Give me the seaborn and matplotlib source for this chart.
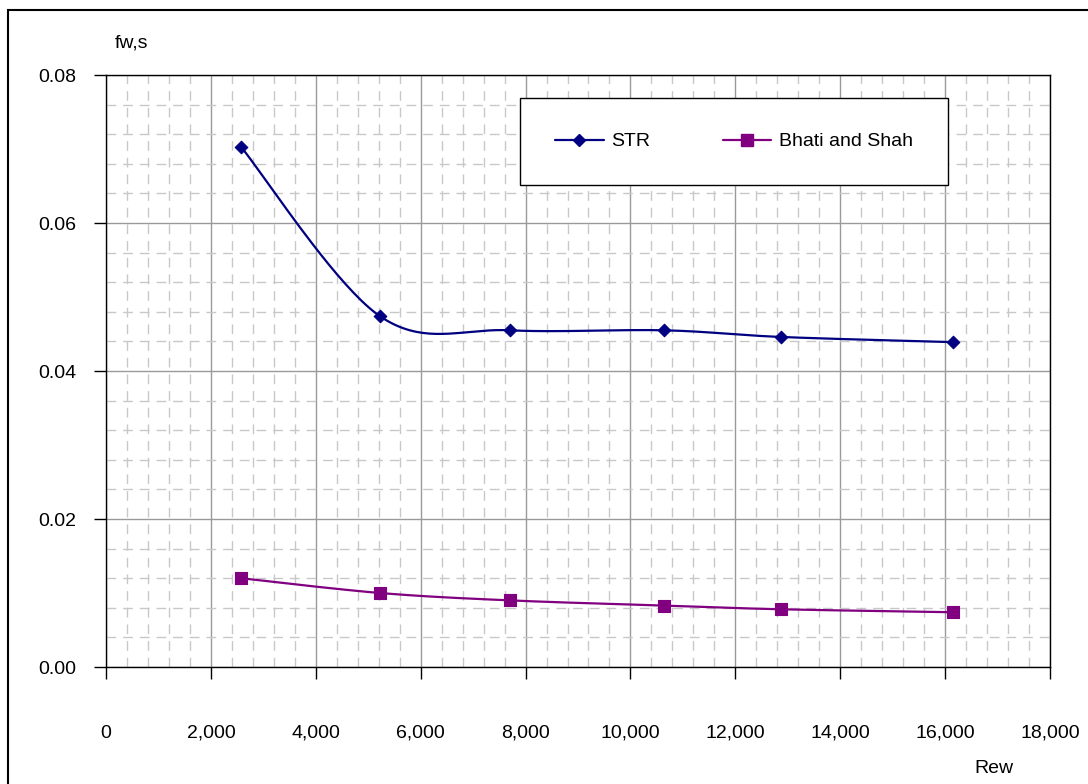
import numpy as np
import matplotlib
matplotlib.use("Agg")
import matplotlib.pyplot as plt
import seaborn as sns
from matplotlib.ticker import MultipleLocator, FuncFormatter
from matplotlib.lines import Line2D
from matplotlib.patches import Rectangle

# Wall Reynolds number and friction factor for each test run
rew = [2574, 5225, 7704, 10641, 12870, 16152]
f_str = [0.0703, 0.0474, 0.0455, 0.0455, 0.0446, 0.0439]
f_bhati = [0.0120, 0.0100, 0.0090, 0.0083, 0.0078, 0.0074]
series_names = ["STR", "Bhati and Shah"]
x_label = "Rew"
y_label = "fw,s"
x_max = 18000
y_max = 0.08

NAVY = "#000080"
PURPLE = "#800080"

sns.set_theme(style="white")
plt.rcParams["font.family"] = ["Liberation Sans", "DejaVu Sans"]
plt.rcParams["text.color"] = "black"

W, H = 1088, 784
fig = plt.figure(figsize=(W / 100, H / 100), dpi=100)
L, R, T, B = 106, 1050, 75, 667
ax = fig.add_axes([L / W, 1 - B / H, (R - L) / W, (B - T) / H])
ax_w, ax_h = R - L, B - T


def smooth(xs, ys, n=40):
    """Cubic Bezier smoothing through the points, computed in screen units."""
    P = np.column_stack([np.asarray(xs, float) / x_max * ax_w,
                         np.asarray(ys, float) / y_max * ax_h])
    parts = []
    t = np.linspace(0, 1, n)[:, None]
    for i in range(len(P) - 1):
        p0 = P[i - 1] if i > 0 else P[i]
        p1, p2 = P[i], P[i + 1]
        p3 = P[i + 2] if i + 2 < len(P) else P[i + 1]
        c1 = p1 + (p2 - p0) / 6
        c2 = p2 - (p3 - p1) / 6
        seg = (1 - t) ** 3 * p1 + 3 * (1 - t) ** 2 * t * c1 \
            + 3 * (1 - t) * t ** 2 * c2 + t ** 3 * p2
        parts.append(seg if i == 0 else seg[1:])
    out = np.vstack(parts)
    return out[:, 0] / ax_w * x_max, out[:, 1] / ax_h * y_max


series = [(f_str, NAVY, "D", 6.4), (f_bhati, PURPLE, "s", 8.6)]
for ys, col, mk, ms in series:
    sx, sy = smooth(rew, ys)
    sns.lineplot(x=sx, y=sy, ax=ax, color=col, linewidth=1.6,
                 sort=False, estimator=None, zorder=3)
    sns.scatterplot(x=rew, y=ys, ax=ax, marker=mk, s=ms ** 2,
                    color=col, edgecolor=col, linewidth=0.8, zorder=4)

ax.set_xlim(0, x_max)
ax.set_ylim(0, y_max)
ax.xaxis.set_major_locator(MultipleLocator(2000))
ax.xaxis.set_minor_locator(MultipleLocator(400))
ax.yaxis.set_major_locator(MultipleLocator(0.02))
ax.yaxis.set_minor_locator(MultipleLocator(0.004))
ax.xaxis.set_major_formatter(FuncFormatter(lambda v, p: f"{v:,.0f}"))
ax.yaxis.set_major_formatter(FuncFormatter(lambda v, p: f"{v:.2f}"))

ax.grid(which="major", color="#9a9a9a", linewidth=1.0, linestyle="-")
ax.grid(which="minor", color="#c8c8c8", linewidth=1.0, linestyle=(0, (7, 5)))
ax.set_axisbelow(True)

ax.tick_params(axis="both", which="major", direction="out", length=8.6,
               width=1.0, color="black", labelsize=14, labelcolor="black",
               bottom=True, left=True, top=False, right=False)
ax.tick_params(axis="x", which="major", pad=33)
ax.tick_params(axis="y", which="major", pad=13)
ax.tick_params(which="minor", length=0)
for sp in ax.spines.values():
    sp.set_visible(True)
    sp.set_color("black")
    sp.set_linewidth(1.0)
ax.set_xlabel("")
ax.set_ylabel("")

# Axis titles
fig.text(115 / W, 1 - 48 / H, y_label, fontsize=14, ha="left",
         va="baseline", color="black")
fig.text(994 / W, 1 - 773 / H, x_label, fontsize=14, ha="center",
         va="baseline", color="black")

# Legend
handles = [
    Line2D([], [], color=NAVY, linewidth=1.6, marker="D", markersize=6.4,
           markeredgecolor=NAVY),
    Line2D([], [], color=PURPLE, linewidth=1.6, marker="s", markersize=8.6,
           markeredgecolor=PURPLE),
]
leg = fig.legend(handles, series_names, ncol=2, loc="center",
                 bbox_to_anchor=(520 / W, 1 - 189 / H, 428 / W, 95 / H),
                 mode="expand", fontsize=14, frameon=True, fancybox=False,
                 handlelength=2.5, handletextpad=0.4, borderpad=1.8,
                 borderaxespad=0, columnspacing=3.0, labelcolor="black")
frame = leg.get_frame()
frame.set_edgecolor("black")
frame.set_linewidth(1.0)
frame.set_facecolor("white")
frame.set_alpha(1.0)

# Chart-area border
fig.patches.append(Rectangle((8 / W, -0.05), 1.2, 1 - 10 / H + 0.05,
                             transform=fig.transFigure, fill=False,
                             edgecolor="black", linewidth=1.5))

fig.savefig("out.png", dpi=100, facecolor="white")
